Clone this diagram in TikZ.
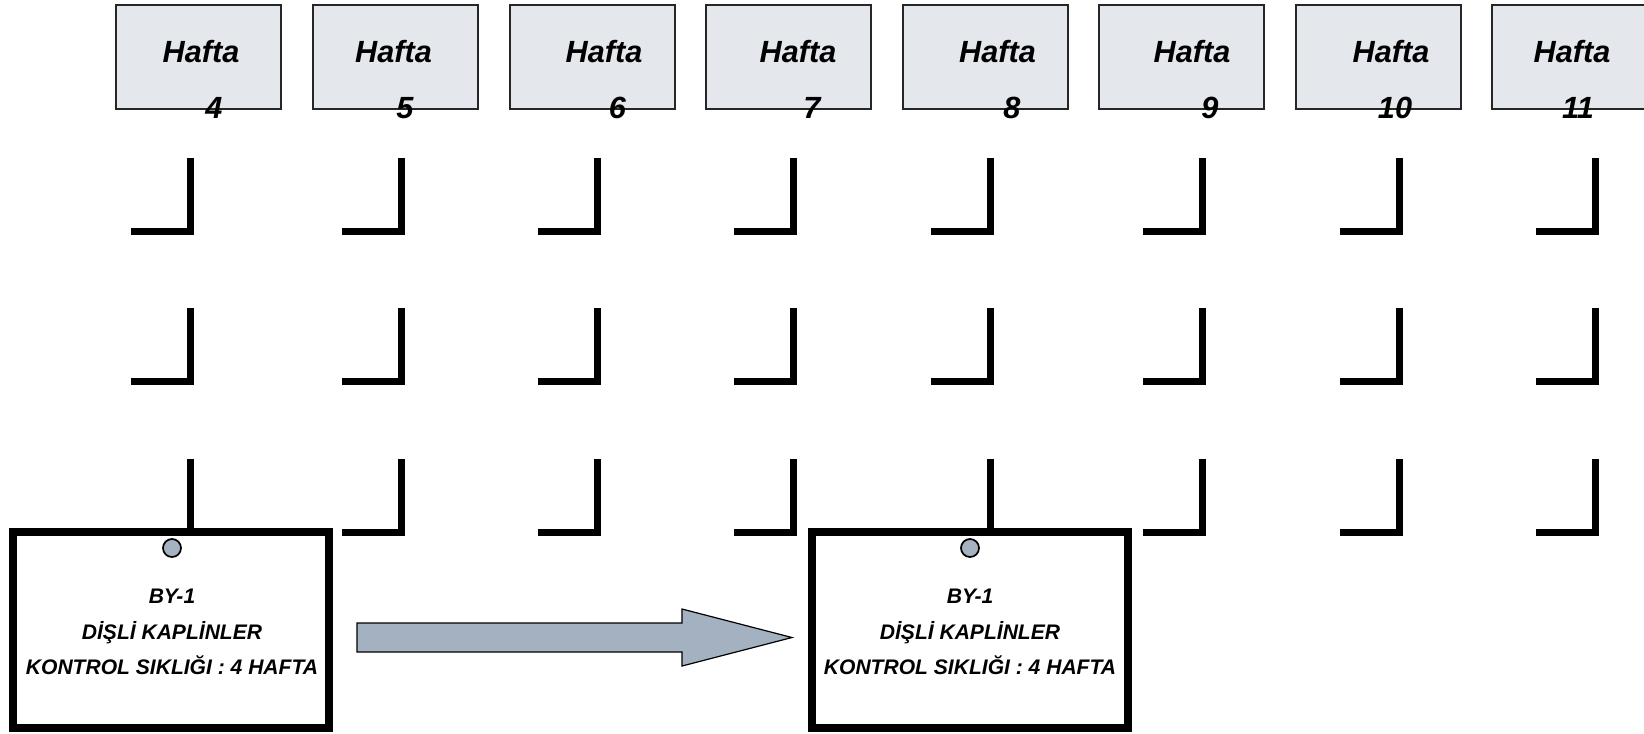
\documentclass[tikz,border=0pt]{standalone}
\usepackage{fontspec}
\setmainfont{Liberation Sans}
\usetikzlibrary{calc}
\definecolor{hfill}{HTML}{E4E7EC}
\definecolor{pinfill}{HTML}{A6B2C1}
\definecolor{arrfill}{HTML}{A3B1C0}
\tikzset{
  hbox/.style={draw=black!85, line width=1.5pt, fill=hfill, rectangle, inner sep=0pt, minimum width=123.75pt, minimum height=78pt},
  htext/.style={anchor=base, inner sep=0pt, font=\fontsize{23}{26}\selectfont\bfseries\itshape},
  brk/.style={line width=5.25pt, line join=miter, line cap=butt},
  bigbox/.style={draw=black, line width=6pt, fill=white, rectangle, inner sep=0pt, minimum width=237pt, minimum height=147pt},
  btext/.style={anchor=base, inner sep=0pt, font=\fontsize{15.8}{18}\selectfont\bfseries\itshape},
  pin/.style={draw=black, line width=1.3pt, fill=pinfill, circle, inner sep=0pt, minimum size=13.5pt},
  blockarrow/.style={draw=black, line width=0.9pt, fill=arrfill, line join=miter}
}
\begin{document}
\begin{tikzpicture}[x=0.75pt, y=-0.75pt]
\useasboundingbox (0,0) rectangle (1644,733);
% header boxes
\foreach \n/\cx/\hx/\nx in {4/198.5/201/214, 5/395.5/393.5/405, 6/592/604/617.5, 7/788.5/798/812, 8/985.5/997.5/1012, 9/1181.5/1192/1210, 10/1378.5/1391/1395, 11/1574.5/1572/1578}{
  \node[hbox] (h\n) at (\cx,57) {};
  \node[htext] (ht\n) at (\hx,62) {Hafta};
  \node[htext] (hn\n) at (\nx,118) {\n};
}
% brackets
\foreach \c in {190,401,597,793,990,1202,1399,1595}{
  \foreach \y in {231,381,532}{
    \draw[brk] (\c-59,\y) -- (\c,\y) -- (\c,\y-73);
  }
}
% big boxes
\node[bigbox] (b1) at (171,630) {};
\node[bigbox] (b2) at (970,630) {};
\node[pin] (p1) at (172,548) {};
\node[pin] (p2) at (970,548) {};
\node[btext] (b1a) at (172,603) {BY-1};
\node[btext] (b1b) at (172,639) {DİŞLİ KAPLİNLER};
\node[btext] (b1c) at (172,674) {KONTROL SIKLIĞI : 4 HAFTA};
\node[btext] (b2a) at (970,603) {BY-1};
\node[btext] (b2b) at (970,639) {DİŞLİ KAPLİNLER};
\node[btext] (b2c) at (970,674) {KONTROL SIKLIĞI : 4 HAFTA};
% block arrow
\coordinate (as) at ($(b1.east)+(24,7.5)$);
\coordinate (at) at ($(b2.west)+(-16,7.5)$);
\draw[blockarrow] ($(as)+(0,-14.5)$) -- ($(at)+(-110,-14.5)$) -- ($(at)+(-110,-28.5)$) -- (at)
  -- ($(at)+(-110,28.5)$) -- ($(at)+(-110,14.5)$) -- ($(as)+(0,14.5)$) -- cycle;
\end{tikzpicture}
\end{document}
